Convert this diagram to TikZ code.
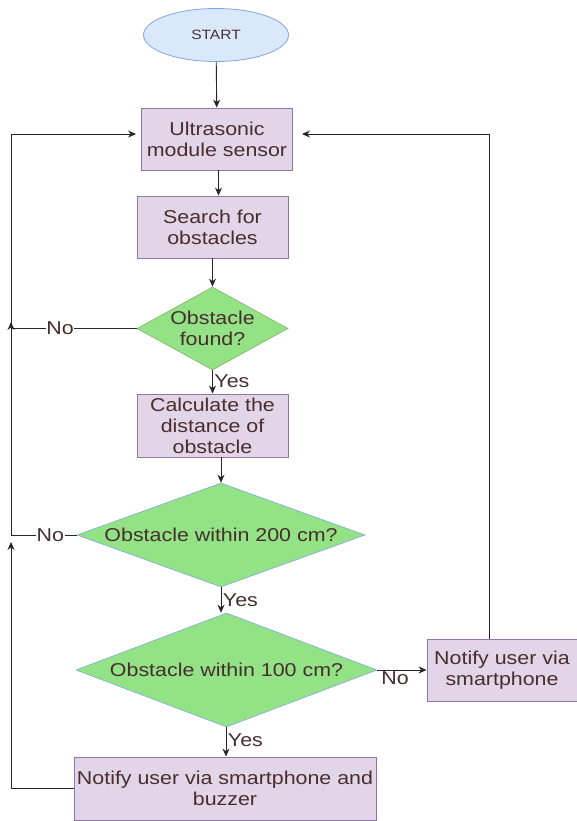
\documentclass[tikz,border=0pt]{standalone}
\usepackage{fontspec}
\setmainfont[FakeStretch=1.15]{Liberation Sans}
\usepackage{tikz}
\usetikzlibrary{arrows.meta,shapes.geometric}

\definecolor{boxfill}{HTML}{E1D5E7}
\definecolor{boxline}{HTML}{9673A6}
\definecolor{decfill}{HTML}{93E286}
\definecolor{decgreen}{HTML}{82B366}
\definecolor{decblue}{HTML}{7EA6E0}
\definecolor{startfill}{HTML}{DAE8FC}
\definecolor{startline}{HTML}{7EA6E0}
\definecolor{txt}{HTML}{472E2E}

\tikzset{
  base/.style={text=txt,font=\fontsize{18.6}{21}\selectfont,align=center,inner sep=0pt},
  process/.style={base,rectangle,draw=boxline,fill=boxfill,line width=0.9pt,minimum height=62pt},
  decision/.style={diamond,fill=decfill,line width=0.6pt,inner sep=0pt,label={[base]center:#1}},
  terminal/.style={base,ellipse,draw=startline,fill=startfill,line width=0.8pt,minimum width=145pt,minimum height=53pt,font=\fontsize{13.5}{16}\selectfont},
  flow/.style={draw=black!85,line width=0.9pt,-{Stealth[length=8pt,width=7pt]}},
  yeslbl/.style={base,right,inner sep=1.5pt},
  nolbl/.style={base,fill=white,inner sep=0.5pt}
}

\begin{document}
\begin{tikzpicture}[x=1pt,y=-1pt]
  \useasboundingbox (0,0) rectangle (577,821);

  \draw (216,35) node[terminal] (start) {START};
  \draw (217,139) node[process,minimum width=151pt] (ultrasonic) {Ultrasonic\\module sensor};
  \draw (212.5,227) node[process,minimum width=151pt] (search) {Search for\\obstacles};
  \draw (212.5,328.5) node[decision={Obstacle\\found?},draw=decgreen,minimum width=151pt,minimum height=83pt] (found) {};
  \draw (212.5,425.5) node[process,minimum width=151pt,minimum height=63pt] (calc) {Calculate the\\distance of\\obstacle};
  \draw (221,535) node[decision={Obstacle within 200 cm?},draw=decblue,minimum width=288pt,minimum height=104pt] (within200) {};
  \draw (226.5,670) node[decision={Obstacle within 100 cm?},draw=decblue,minimum width=301pt,minimum height=114pt] (within100) {};
  \draw (502,670) node[process,minimum width=150pt] (notify) {Notify user via\\smartphone};
  \draw (225,788.5) node[process,minimum width=302pt,minimum height=63pt] (buzzer) {Notify user via smartphone and\\buzzer};

  \coordinate (leftTop) at (11,134);
  \coordinate (rightTop) at (489,134);
  \coordinate (joinFound) at (11,322);
  \coordinate (joinBuzzer) at (11,542);
  \coordinate (sensorOut) at (218.5,170);
  \coordinate (yesBuzzer) at (226,727);

  \path (start) edge[flow] (ultrasonic);
  \path (sensorOut) edge[flow] (sensorOut |- search.north);
  \path (search) edge[flow] (found);
  \path (found) edge[flow] node[yeslbl,pos=0.45] {Yes} (calc);
  \path (calc.south -| within200.north) edge[flow] (within200.north);
  \path (within200.south) edge[flow] node[yeslbl,pos=0.5] {Yes} (within200.south |- within100.north);
  \path (yesBuzzer) edge[flow] node[yeslbl,pos=0.45] {Yes} (yesBuzzer |- buzzer.north);
  \path (within100.east) edge[flow] node[base,below,inner sep=1pt,pos=0.36] {No} (notify.west);

  \draw[flow] (found.west) -- node[nolbl,pos=0.61] {No} (found.west -| joinFound) -- (joinFound);
  \draw[flow,shorten >=5pt] (within200.west) -- node[nolbl,pos=0.4] {No} (within200.west -| leftTop) -- (leftTop) -- (leftTop -| ultrasonic.west);
  \draw[flow] (buzzer.west) -- (buzzer.west -| joinBuzzer) -- (joinBuzzer);
  \draw[flow,shorten >=9pt] (notify.north -| rightTop) -- (rightTop) -- (rightTop -| ultrasonic.east);

\end{tikzpicture}
\end{document}
